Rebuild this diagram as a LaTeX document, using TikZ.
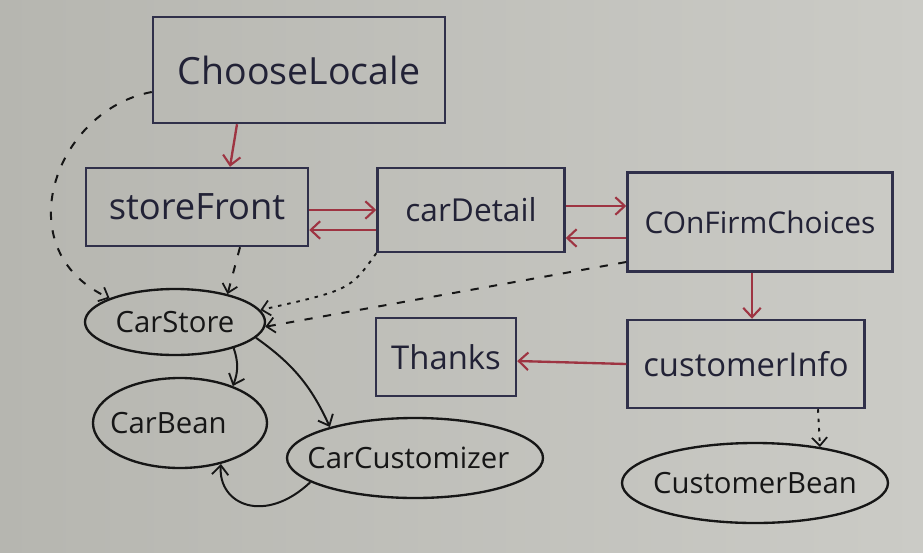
\documentclass[tikz,border=0pt]{standalone}
\usepackage{fontspec}
\setmainfont{Open Sans}
\usetikzlibrary{arrows.meta,shapes.geometric,calc}
\definecolor{boardL}{HTML}{B6B6B0}
\definecolor{boardR}{HTML}{CBCBC6}
\definecolor{boxline}{HTML}{30304A}
\definecolor{boxtext}{HTML}{222236}
\definecolor{redline}{HTML}{9E3442}
\definecolor{inkblack}{HTML}{161616}
\newcommand{\zw}[1]{\makebox[0pt]{#1}}
\begin{document}
\begin{tikzpicture}[x=0.03cm,y=-0.03cm,
  pagebox/.style={draw=boxline,line width=2.1pt,rectangle,text=boxtext,inner sep=0pt},
  beanbox/.style={draw=inkblack,line width=2pt,ellipse,text=inkblack,inner sep=0pt,font=\fontsize{25}{30}\selectfont},
  redarr/.style={draw=redline,line width=2pt,-{Straight Barb[length=8pt,width=15pt,line width=1.8pt]}},
  blkarr/.style={draw=inkblack,line width=1.7pt,-{Straight Barb[length=8pt,width=14pt,line width=1.6pt]}},
  dasharr/.style={draw=inkblack,line width=1.7pt,dash pattern=on 7pt off 9pt,-{Straight Barb[length=7pt,width=13pt,line width=1.5pt]}},
  dotarr/.style={draw=inkblack,line width=1.6pt,dash pattern=on 3pt off 5pt,-{Straight Barb[length=7pt,width=13pt,line width=1.5pt]}}]
\shade[left color=boardL,right color=boardR] (0,0) rectangle (923,552);
\useasboundingbox (0,0) rectangle (923,552);
% page boxes
\node[pagebox,minimum width=8.76cm,minimum height=3.18cm,font=\fontsize{32}{38}\selectfont] (cl) at (299,70) {ChooseLocale};
\node[pagebox,minimum width=6.66cm,minimum height=2.34cm,font=\fontsize{31}{36}\selectfont] (sf) at (197,207) {storeFront};
\node[pagebox,minimum width=5.61cm,minimum height=2.52cm,font=\fontsize{27}{32}\selectfont] (cd) at (471,210) {carDetail};
\node[pagebox,minimum width=7.95cm,minimum height=2.97cm,font=\fontsize{25.5}{30}\selectfont] (cc) at (760,222) {COnFirmChoices};
\node[pagebox,minimum width=4.2cm,minimum height=2.34cm,font=\fontsize{28}{33}\selectfont] (th) at (446,357) {Thanks};
\node[pagebox,minimum width=7.11cm,minimum height=2.64cm,font=\fontsize{28}{33}\selectfont] (ci) at (746,364) {customerInfo};
% beans
\node[beanbox,minimum width=5.4cm,minimum height=1.98cm] (cs) at (175,322) {\zw{CarStore}};
\node[beanbox,minimum width=5.22cm,minimum height=2.7cm] (cb) at (180,423) {\zw{\hspace*{-0.7cm}CarBean}};
\node[beanbox,minimum width=7.68cm,minimum height=2.4cm] (cz) at (415,458) {\zw{\hspace*{-0.4cm}CarCustomizer}};
\node[beanbox,minimum width=7.98cm,minimum height=2.4cm] (cub) at (755,483) {\zw{CustomerBean}};
% red navigation arrows
\draw[redarr] ($(cl.south)+(-62,0)$) -- ($(sf.north)+(33,0)$);
\draw[redarr] ($(sf.east)+(0,3)$) -- ($(cd.west)+(0,0)$);
\draw[redarr] ($(cd.west)+(0,20)$) -- ($(sf.east)+(0,23)$);
\draw[redarr] ($(cd.east)+(0,-4)$) -- ($(cc.west)+(0,-16)$);
\draw[redarr] ($(cc.west)+(0,16)$) -- ($(cd.east)+(0,28)$);
\draw[redarr] ($(cc.south)+(-8,0)$) -- ($(ci.north)+(6,0)$);
\draw[redarr] (ci.west) -- ($(th.east)+(0,4)$);
% dashed uses
\draw[dasharr] ($(cl.west)+(0,22)$) .. controls (55,110) and (5,250) .. (cs.160);
\draw[dasharr] ($(sf.south)+(43,0)$) -- (cs.28);
\draw[dotarr] (cd.south west) .. controls (350,290) .. (cs.8);
\draw[dasharr] ($(cc.west)+(0,40)$) -- (cs.-3);
\draw[dotarr] ($(ci.south)+(72,0)$) -- (cub.29);
% black bean arrows
\draw[blkarr] (cs.-24) to[bend left=20] (cb.35);
\draw[blkarr] (cs.-11) to[bend left=15] (cz.160);
\draw[blkarr] (cz.193) .. controls (265,525) and (218,505) .. (cb.-45);
\end{tikzpicture}
\end{document}
